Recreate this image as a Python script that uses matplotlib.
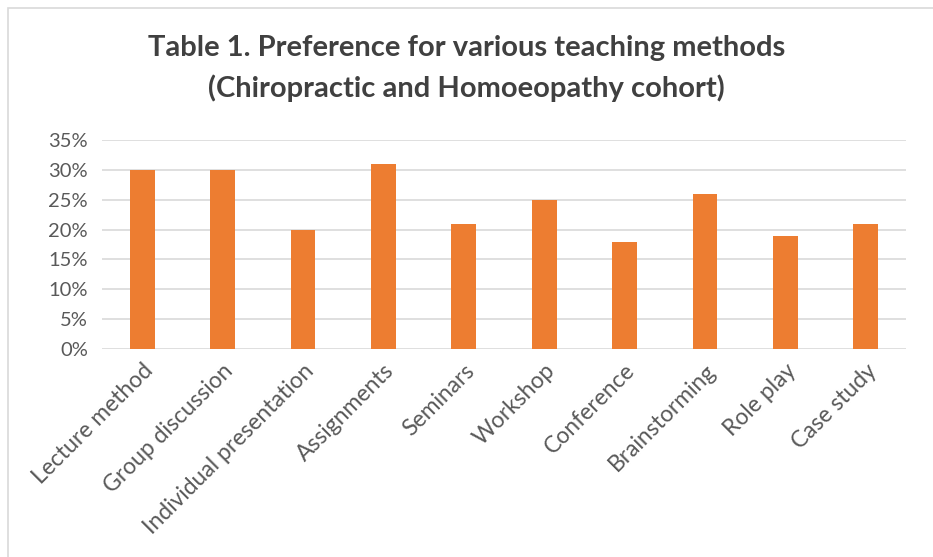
import matplotlib.pyplot as plt
from matplotlib.patches import Rectangle
from matplotlib.ticker import MultipleLocator, PercentFormatter

methods = ["Lecture method", "Group discussion", "Individual presentation",
           "Assignments", "Seminars", "Workshop", "Conference",
           "Brainstorming", "Role play", "Case study"]
preference = [30, 30, 20, 31, 21, 25, 18, 26, 19, 21]

W, H = 933, 557
fig = plt.figure(figsize=(W / 100, H / 100), dpi=100)
plt.rcParams["font.family"] = ["Lato", "DejaVu Sans"]

# chart border (Excel style), cut at right/bottom
fig.patches.append(Rectangle((8 / W, -0.1), 1.1, 1.1 - 8 / H,
                             transform=fig.transFigure, fill=False,
                             edgecolor="#d9d9d9", linewidth=1.2))

ax = fig.add_axes([102 / W, 1 - 349 / H, (906 - 102) / W, (349 - 140) / H])
x = range(len(methods))
ax.bar(x, preference, width=0.31, color="#ed7d31", zorder=3)

ax.set_ylim(0, 35)
ax.set_xlim(-0.5, len(methods) - 0.5)
ax.yaxis.set_major_locator(MultipleLocator(5))
ax.yaxis.set_major_formatter(PercentFormatter(decimals=0))
ax.grid(axis="y", color="#d9d9d9", linewidth=1.2, zorder=0)
for s in ax.spines.values():
    s.set_visible(False)
ax.tick_params(axis="y", length=0, labelsize=14.5, colors="#595959", pad=10)
ax.set_xticks(list(x))
ax.set_xticklabels(methods, rotation=45, ha="right", rotation_mode="anchor")
ax.tick_params(axis="x", length=0, labelsize=16.5, colors="#595959", pad=8)

fig.text(0.5, 1 - 48 / H, "Table 1. Preference for various teaching methods",
         ha="center", va="center", fontsize=21, fontweight="bold", color="#404040")
fig.text(0.5, 1 - 88 / H, "(Chiropractic and Homoeopathy cohort)",
         ha="center", va="center", fontsize=21, fontweight="bold", color="#404040")

fig.savefig("out.png", dpi=100)
